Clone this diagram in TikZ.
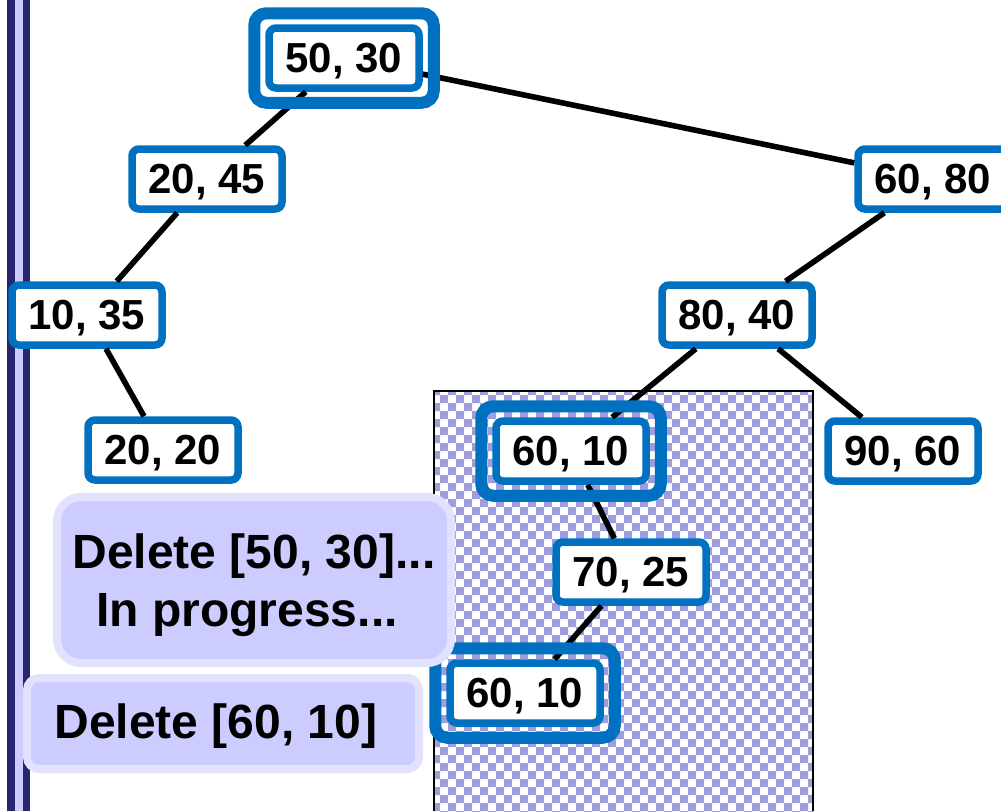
\documentclass[tikz,border=0pt]{standalone}
\usepackage{fontspec}
\setmainfont{Liberation Sans}
\usetikzlibrary{patterns}
\definecolor{keyblue}{RGB}{0,112,192}
\definecolor{barnavy}{RGB}{41,38,112}
\definecolor{barlight}{RGB}{204,204,255}
\definecolor{notefill}{RGB}{204,204,255}
\definecolor{noteedge}{RGB}{226,226,255}
\definecolor{checkc}{RGB}{158,158,222}
% coarse checkerboard (4pt squares)
\pgfdeclarepatternformonly{bigchecker}{\pgfqpoint{-0.1pt}{-0.1pt}}{\pgfqpoint{8.1pt}{8.1pt}}{\pgfqpoint{8pt}{8pt}}{%
  \pgfpathrectangle{\pgfqpoint{0pt}{0pt}}{\pgfqpoint{4pt}{4pt}}%
  \pgfpathrectangle{\pgfqpoint{4pt}{4pt}}{\pgfqpoint{4pt}{4pt}}%
  \pgfusepath{fill}}
\newcommand{\lowtext}[2]{\raisebox{-#1}[\height][\depth]{#2}}
\begin{document}
\begin{tikzpicture}[x=0.5pt, y=-0.5pt,
    key/.style={draw=keyblue, line width=3.75pt, fill=white, rounded corners=3.5pt,
      minimum width=75pt, minimum height=30pt, inner sep=0pt, text depth=0pt,
      font=\fontsize{21}{25}\selectfont\bfseries},
    ring/.style={draw=keyblue, line width=6pt, rounded corners=6pt},
    edge/.style={line width=2.8pt},
    note/.style={draw=noteedge, fill=notefill, line width=4pt, inner sep=0pt,
      align=center, font=\fontsize{24}{29}\selectfont\bfseries}]
	\useasboundingbox (0,0) rectangle (1001,811);
	
	% Barra de la izquierda
	\fill[barnavy] (7,0) rectangle (30,811);
	\fill[barlight] (15,0) rectangle (23,811);
	
	% Zona rayada
	\fill[pattern=bigchecker, pattern color=checkc] (434,391) rectangle (813,811);
	\draw[line width=0.75pt] (434,811) -- (434,391) -- (813,391) -- (813,811);
	
	% Arbol
	\node[key] (n5030) at (344,58) {50, 30};
	\node[key] (n2045) at (207,179) {20, 45};
	\node[key] (n1035) at (87,315) {10, 35};
	\node[key] (n2020) at (163,450) {20, 20};
	\node[key] (n6080) at (933,179) {60, 80};
	\node[key] (n8040) at (737,315) {80, 40};
	\node[key] (n9060) at (903,451) {90, 60};
	\node[key] (n6010) at (571,451) {60, 10};
	\node[key] (n7025) at (631,572) {70, 25};
	\node[key] (m6010) at (525,693) {60, 10};
	
	\draw[edge] (n5030) -- (n2045);
	\draw[edge] (n5030) -- (n6080);
	\draw[edge] (n2045) -- (n1035);
	\draw[edge] (n1035) -- (n2020);
	\draw[edge] (n6080) -- (n8040);
	\draw[edge] (n8040) -- (n6010);
	\draw[edge] (n8040) -- (n9060);
	\draw[edge] (n6010) -- (n7025);
	\draw[edge] (n7025) -- (m6010);
	
	% Marcos dobles
	\draw[ring] ([shift={(-11,-11)}]n5030.north west) rectangle ([shift={(11,11)}]n5030.south east);
	\draw[ring] ([shift={(-11,-11)}]n6010.north west) rectangle ([shift={(11,11)}]n6010.south east);
	\draw[ring] ([shift={(-11,-11)}]m6010.north west) rectangle ([shift={(11,11)}]m6010.south east);
	
	% Mensajes
	\node[note, rounded corners=12pt, minimum width=197pt, minimum height=83pt] (msga) at (254,580)
	  {\lowtext{2.5pt}{Delete [50, 30]...}\\\lowtext{2.5pt}{In progress...\hspace*{7pt}}};
	\node[note, rounded corners=6pt, minimum width=196pt, minimum height=45.5pt] (msgb) at (223,723.5)
	  {\lowtext{1.5pt}{Delete [60, 10]\hspace*{7pt}}};
\end{tikzpicture}
\end{document}
